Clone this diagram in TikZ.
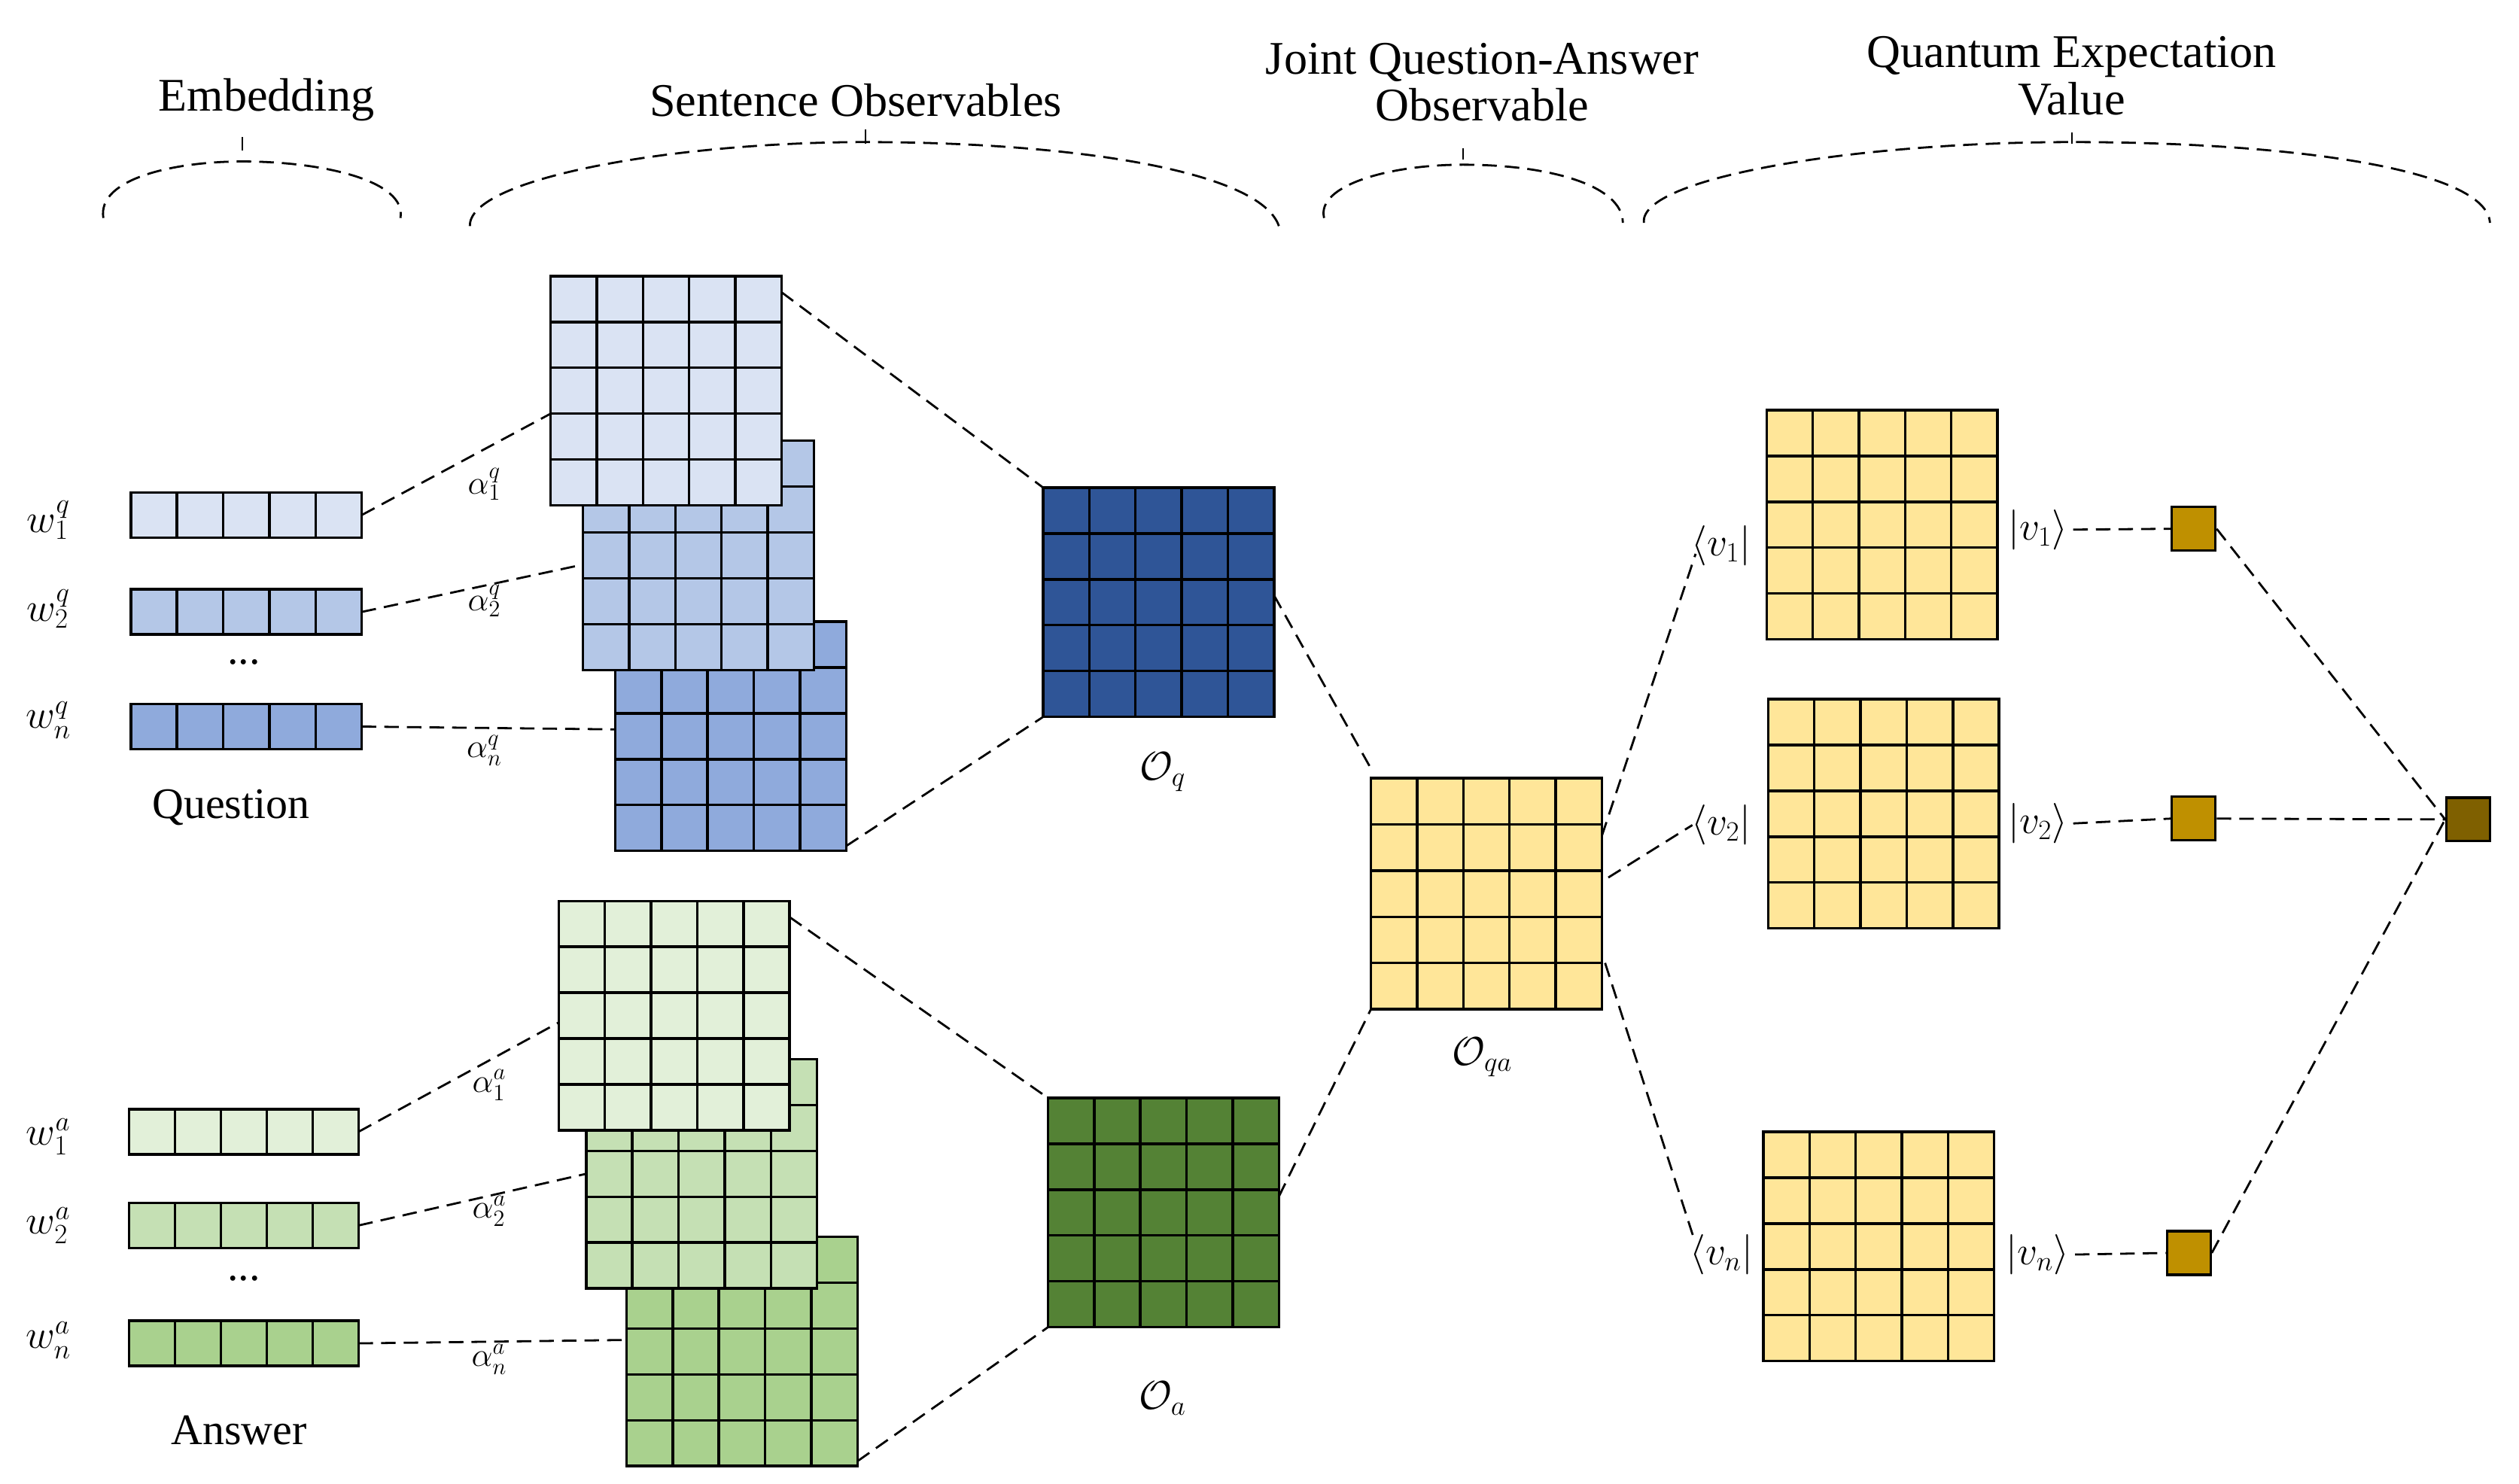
\documentclass[tikz,border=0pt]{standalone}
\usepackage{fontspec}
\setmainfont{Liberation Serif}
\usetikzlibrary{calc}
\definecolor{q1}{HTML}{DAE3F3}\definecolor{q2}{HTML}{B4C7E7}\definecolor{q3}{HTML}{8FAADC}
\definecolor{qo}{HTML}{2F5597}
\definecolor{a1}{HTML}{E2F0D9}\definecolor{a2}{HTML}{C5E0B4}\definecolor{a3}{HTML}{A9D18E}
\definecolor{ao}{HTML}{548235}
\definecolor{yel}{HTML}{FFE699}\definecolor{gold}{HTML}{BF9000}\definecolor{dgold}{HTML}{7F6000}
\tikzset{
 mat/.style={draw=black,line width=1.6pt,inner sep=0pt,outer sep=0pt},
 gl/.style={line width=1.6pt},
 con/.style={line width=1.3pt,dash pattern=on 9pt off 5pt},
 ttl/.style={font=\fontsize{29}{33}\selectfont,align=center},
 lab/.style={font=\fontsize{27}{30}\selectfont},
 al/.style={font=\fontsize{21}{24}\selectfont},
 sq/.style={draw=black,line width=1.5pt,minimum size=27pt,inner sep=0pt},
 brace/.style={line width=1.3pt,dash pattern=on 9pt off 5pt},
}
% name, x, y, w, h, rows, color
\newcommand\cellmat[7]{%
 \node[mat,fill=#7,minimum width=#4pt,minimum height=#5pt,anchor=north west] (#1) at (#2,#3) {};
 \foreach \i in {1,...,4}{\draw[gl] ($(#1.north west)!\i/5!(#1.north east)$) -- ($(#1.south west)!\i/5!(#1.south east)$);}
 \ifnum#6>1 \foreach \i in {1,...,4}{\draw[gl] ($(#1.north west)!\i/5!(#1.south west)$) -- ($(#1.north east)!\i/5!(#1.south east)$);}\fi
 \draw[mat] (#1.north west) rectangle (#1.south east);
}
\begin{document}
\begin{tikzpicture}[x=1pt,y=-1pt]
\useasboundingbox (0,0) rectangle (1560,919);
% titles and braces
\node[ttl] (t1) at (165,62) {Embedding};
\node[ttl] (t2) at (530,62) {Sentence Observables};
\node[ttl] (t3) at (918,51) {Joint Question-Answer\\[-4pt]Observable};
\node[ttl] (t4) at (1283,47) {Quantum Expectation\\[-4pt]Value};
\draw[line width=0.8pt] (150,85) -- (150,93);
\draw[line width=0.8pt] (536,80) -- (536,89);
\draw[line width=0.8pt] (906,92) -- (906,99);
\draw[line width=0.8pt] (1283,82) -- (1283,89);
\draw[brace] (64,135) .. controls (60,110) and (110,100) .. (150,100) .. controls (200,100) and (252,112) .. (248,135);
\draw[brace] (291,140) .. controls (290,110) and (420,88) .. (536,88) .. controls (660,88) and (780,105) .. (792,140);
\draw[brace] (820,135) .. controls (815,115) and (860,102) .. (906,102) .. controls (960,102) and (1005,115) .. (1005,138);
\draw[brace] (1018,138) .. controls (1015,110) and (1150,88) .. (1283,88) .. controls (1420,88) and (1540,105) .. (1542,138);
% question
\cellmat{wq1}{81}{305}{143}{28}{1}{q1}
\cellmat{wq2}{81}{365}{143}{28}{1}{q2}
\cellmat{wq3}{81}{436}{143}{28}{1}{q3}
\node[lab] (lq1) at (30,322) {$w_1^q$};
\node[lab] (lq2) at (30,377) {$w_2^q$};
\node[lab] (lq3) at (30,446) {$w_n^q$};
\node[lab] (dq) at (151,410) {...};
\node[lab] (qq) at (143,500) {Question};
\cellmat{mq3}{381}{385}{143}{142}{5}{q3}
\cellmat{mq2}{361}{273}{143}{142}{5}{q2}
\cellmat{mq1}{341}{171}{143}{142}{5}{q1}
\cellmat{oq}{646}{302}{143}{142}{5}{qo}
\node[lab] (loq) at (720,478) {$\mathcal{O}_q$};
\node[al] (aq1) at (300,300) {$\alpha_1^q$};
\node[al] (aq2) at (300,372) {$\alpha_2^q$};
\node[al] (aq3) at (300,465) {$\alpha_n^q$};
\draw[con] (wq1.east) -- ($(mq1.north west)!0.6!(mq1.south west)$);
\draw[con] (wq2.east) -- ($(mq2.north west)!0.54!(mq2.south west)$);
\draw[con] (wq3.east) -- ($(mq3.north west)!0.47!(mq3.south west)$);
\draw[con] ($(mq1.north east)+(0,10)$) -- (oq.north west);
\draw[con] ($(mq3.south east)+(0,-3)$) -- (oq.south west);
% answer
\cellmat{wa1}{80}{687}{142}{28}{1}{a1}
\cellmat{wa2}{80}{745}{142}{28}{1}{a2}
\cellmat{wa3}{80}{818}{142}{28}{1}{a3}
\node[lab] (la1) at (30,704) {$w_1^a$};
\node[lab] (la2) at (30,759) {$w_2^a$};
\node[lab] (la3) at (30,830) {$w_n^a$};
\node[lab] (da) at (151,792) {...};
\node[lab] (qa) at (148,886) {Answer};
\cellmat{ma3}{388}{766}{143}{142}{5}{a3}
\cellmat{ma2}{363}{656}{143}{142}{5}{a2}
\cellmat{ma1}{346}{558}{143}{142}{5}{a1}
\cellmat{oa}{649}{680}{143}{142}{5}{ao}
\node[lab] (loa) at (720,866) {$\mathcal{O}_a$};
\node[al] (aa1) at (303,672) {$\alpha_1^a$};
\node[al] (aa2) at (303,750) {$\alpha_2^a$};
\node[al] (aa3) at (303,842) {$\alpha_n^a$};
\draw[con] (wa1.east) -- ($(ma1.north west)!0.53!(ma1.south west)$);
\draw[con] (wa2.east) -- ($(ma2.north west)!0.5!(ma2.south west)$);
\draw[con] (wa3.east) -- ($(ma3.north west)!0.45!(ma3.south west)$);
\draw[con] ($(ma1.north east)+(0,10)$) -- (oa.north west);
\draw[con] ($(ma3.south east)+(0,-3)$) -- (oa.south west);
% joint
\cellmat{oqa}{849}{482}{143}{143}{5}{yel}
\node[lab] (loqa) at (918,655) {$\mathcal{O}_{qa}$};
\draw[con] ($(oq.north east)!0.47!(oq.south east)$) -- ($(oqa.north west)+(0,-6)$);
\draw[con] ($(oa.north east)!0.43!(oa.south east)$) -- (oqa.south west);
% eigen
\cellmat{v1}{1094}{254}{143}{142}{5}{yel}
\cellmat{v2}{1095}{433}{143}{142}{5}{yel}
\cellmat{vn}{1092}{701}{143}{142}{5}{yel}
\node[lab] (b1) at (1066,338) {$\langle v_1|$};
\node[lab] (b2) at (1066,511) {$\langle v_2|$};
\node[lab] (bn) at (1066,777) {$\langle v_n|$};
\node[lab] (k1) at (1262,328) {$|v_1\rangle$};
\node[lab] (k2) at (1262,510) {$|v_2\rangle$};
\node[lab] (kn) at (1262,777) {$|v_n\rangle$};
\draw[con] ($(oqa.north east)!0.25!(oqa.south east)$) -- ($(b1.west)+(6,5)$);
\draw[con] ($(oqa.north east)!0.43!(oqa.south east)+(4,0)$) -- ($(b2.west)+(4,0)$);
\draw[con] ($(oqa.north east)!0.8!(oqa.south east)+(2,0)$) -- ($(bn.west)+(6,-10)$);
\node[sq,fill=gold] (s1) at (1358.5,327.5) {};
\node[sq,fill=gold] (s2) at (1358.5,507) {};
\node[sq,fill=gold] (sn) at (1355.5,776) {};
\node[sq,fill=dgold] (f) at (1528.5,507.5) {};
\draw[con] (k1.east) -- (s1.west);
\draw[con] (k2.east) -- (s2.west);
\draw[con] (kn.east) -- (sn.west);
\draw[con] (s1.east) -- (f.west);
\draw[con] (s2.east) -- (f.west);
\draw[con] (sn.east) -- (f.west);
\end{tikzpicture}
\end{document}
